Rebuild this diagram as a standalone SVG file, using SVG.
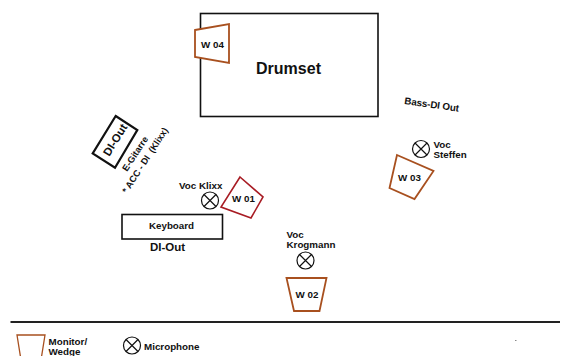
<svg xmlns="http://www.w3.org/2000/svg" width="565" height="356" viewBox="0 0 565 356">
<style>
text{font-family:"Liberation Sans",Arial,sans-serif;font-weight:700;fill:#111}
.s{font-size:9.800px}
.r{font-size:9.200px}
.box{fill:#fff;stroke:#111;stroke-width:1.6}
.thick{stroke-width:2.200}
.wr{fill:#fff;stroke:#a8501f;stroke-width:1.800;stroke-linejoin:miter}
.thin{stroke-width:1.300}
.wd{fill:#fff;stroke:#a81c24;stroke-width:1.6}
.mic circle{fill:#fff;stroke:#111;stroke-width:1.2}
.mic path{stroke:#111;stroke-width:1.2;fill:none}
</style>
<defs>
<g id="x" class="mic"><circle r="8.5"/><path d="M-6-6L6 6M-6 6L6-6"/></g>
</defs>
<g id="connectors"></g>
<g id="drumset"><rect class="box" x="200.500" y="13.500" width="177.500" height="103"/><text x="288.500" y="73.500" text-anchor="middle" font-size="16px">Drumset</text></g>
<g id="w04"><path class="wr" d="M195 30L229 24V63L195 57Z"/><text x="212.500" y="47.500" text-anchor="middle" class="s">W 04</text></g>
<g id="bass-di"><text transform="translate(404 104) rotate(8)" class="s" textLength="55">Bass-DI Out</text></g>
<g id="mic-steffen"><use href="#x" x="421" y="149"/><text x="433.500" y="148" class="s">Voc</text><text x="433.500" y="158" class="s">Steffen</text></g>
<g id="w03"><path class="wr" d="M397 155L433.500 171L414.500 199L389.500 188Z"/><text x="409.500" y="181" text-anchor="middle" class="s">W 03</text></g>
<g id="di-out-box"><path class="box thick" d="M115.700 116L137.300 130L115 167.700L92.700 153.300Z"/><text transform="translate(118.500 142) rotate(-58)" font-size="11.500px" text-anchor="middle">DI-Out</text></g>
<g id="egitarre"><text transform="translate(127 172) rotate(-57)" class="r">E-Gitarre</text><text transform="translate(127 194) rotate(-57)" class="r" xml:space="preserve">* ACC - DI  (Klixx)</text></g>
<g id="mic-klixx"><text x="179" y="189" class="s">Voc Klixx</text><use href="#x" x="210" y="200.500"/></g>
<g id="w01"><path class="wd" d="M240 177L263 197L251 218L221 207Z"/><text x="243.500" y="202" text-anchor="middle" class="s">W 01</text></g>
<g id="keyboard"><rect class="box" x="122" y="214.500" width="100.500" height="24.500"/><text x="171.500" y="229" text-anchor="middle" class="s">Keyboard</text></g>
<g id="di-out-label"><text x="167.500" y="250.500" text-anchor="middle" font-size="11.500px">DI-Out</text></g>
<g id="mic-krogmann"><text x="286.500" y="238" class="s">Voc</text><text x="286.500" y="248" class="s">Krogmann</text><use href="#x" x="305.500" y="260.500"/></g>
<g id="w02"><path class="wr" d="M286.500 278H326.500L319.500 311H294Z"/><text x="307" y="298" text-anchor="middle" class="s">W 02</text></g>
<path id="rule" d="M10.500 322H560" stroke="#222" stroke-width="2" fill="none"/>
<g id="legend-monitor"><path class="wr thin" d="M17 335H45L41 360H21Z"/><text x="48.500" y="344.500" class="s">Monitor/</text><text x="48.500" y="355" class="s">Wedge</text></g>
<g id="legend-mic"><use href="#x" x="132" y="345.500"/><text x="144" y="350" class="s">Microphone</text></g>
<rect id="speck" x="515" y="340" width="1.500" height="1" fill="#888"/>
</svg>
